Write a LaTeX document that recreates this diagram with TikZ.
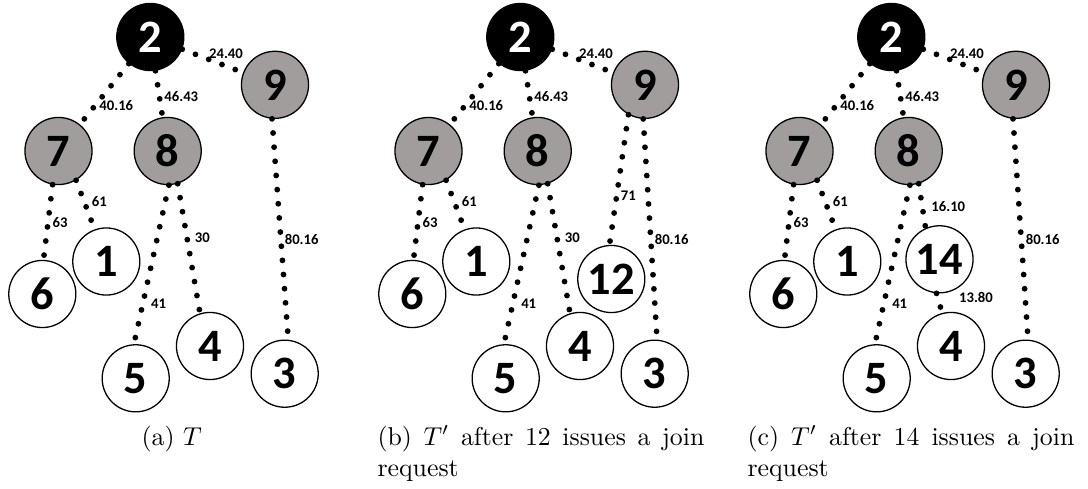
\documentclass[tikz,border=0pt]{standalone}
\usepackage{fontspec}
\newfontfamily\nodefont{Carlito}
\definecolor{nodegray}{RGB}{161,157,157}
\tikzset{
  nd/.style={circle,draw=black,line width=0.5pt,minimum size=26pt,inner sep=0pt,
    font=\nodefont\bfseries\fontsize{18}{18}\selectfont},
  rootnd/.style={nd,fill=black,text=white},
  graynd/.style={nd,fill=nodegray},
  leafnd/.style={nd,fill=white},
  dotedge/.style={line width=2.25pt,line cap=round,dash pattern=on 0pt off 5.5pt},
  wlabel/.style={font=\nodefont\bfseries\fontsize{5.7}{6}\selectfont,inner sep=0pt},
  captext/.style={font=\rmfamily\fontsize{10}{12}\selectfont,inner sep=0pt}
}
\newcommand{\basetree}[1]{%
  \node[rootnd] (#1n2) at (150.3,37) {2};
  \node[graynd] (#1n9) at (275,84.8) {9};
  \node[graynd] (#1n7) at (58.5,151) {7};
  \node[graynd] (#1n8) at (167.7,151) {8};
  \node[leafnd] (#1n1) at (106.3,261.5) {1};
  \node[leafnd] (#1n6) at (42.3,294) {6};
  \node[leafnd] (#1n5) at (135.7,378.3) {5};
  \node[leafnd] (#1n4) at (210,346) {4};
  \node[leafnd] (#1n3) at (284.7,373.7) {3};
  \draw[dotedge] (#1n2) -- (#1n7);
  \draw[dotedge] (#1n2) -- (#1n8);
  \draw[dotedge] (#1n2) -- (#1n9);
  \draw[dotedge] (#1n7.-100) -- (#1n6.88);
  \draw[dotedge] (#1n7.-59) -- (#1n1.110);
  \draw[dotedge] (#1n8.-88) -- (#1n5.93);
  \node[wlabel] (#1l29) at (226,54) {24.40};
  \node[wlabel] (#1l27) at (116.3,106) {40.16};
  \node[wlabel] (#1l28) at (181.3,96.7) {46.43};
  \node[wlabel] (#1l76) at (60,222.3) {63};
  \node[wlabel] (#1l71) at (99.3,201.7) {61};
  \node[wlabel] (#1l85) at (158.7,304) {41};
}
\begin{document}
\begin{tikzpicture}[x=0.3876pt,y=-0.3876pt]
\useasboundingbox (0,0) rectangle (1088,489);
% panel (a)
\begin{scope}
  \basetree{a}
  \draw[dotedge] (an8.-73) -- (an4.107);
  \draw[dotedge] (an9.-95) -- (an3.84);
  \node[wlabel] (al84) at (202.3,237.3) {30};
  \node[wlabel] (al93) at (301.7,239.3) {80.16};
\end{scope}
% panel (b)
\begin{scope}[shift={(370,0)}]
  \basetree{b}
  \node[leafnd] (bn12) at (241.3,279) {12};
  \draw[dotedge] (bn8.-73) -- (bn4.107);
  \draw[dotedge] (bn9.-119) -- (bn12.93);
  \draw[dotedge] (bn9.-93) -- (bn3.86);
  \node[wlabel] (bl84) at (202.3,237.3) {30};
  \node[wlabel] (bl912) at (258.3,195.7) {71};
  \node[wlabel] (bl93) at (301.7,239.3) {80.16};
\end{scope}
% panel (c)
\begin{scope}[shift={(741,0)}]
  \basetree{c}
  \node[leafnd] (cn14) at (198.5,259.3) {14};
  \draw[dotedge] (cn8.-73) -- (cn14.114);
  \draw[dotedge] (cn14.-95) -- (cn4.105);
  \draw[dotedge] (cn9.-95) -- (cn3.86);
  \node[wlabel] (cl814) at (207.3,206.7) {16.10};
  \node[wlabel] (cl144) at (235,297.7) {13.80};
  \node[wlabel] (cl93) at (301.7,239.3) {80.16};
\end{scope}
% captions
\node[captext,anchor=base] (capa) at (171.7,445) {(a) $T$};
\node[captext,anchor=base west] (capb1) at (377,445) {\makebox[126.7pt][s]{(b) $T'$ after 12 issues a join}};
\node[captext,anchor=base west] (capb2) at (377,476) {request};
\node[captext,anchor=base west] (capc1) at (747,445) {\makebox[126.7pt][s]{(c) $T'$ after 14 issues a join}};
\node[captext,anchor=base west] (capc2) at (747,476) {request};
\end{tikzpicture}
\end{document}
